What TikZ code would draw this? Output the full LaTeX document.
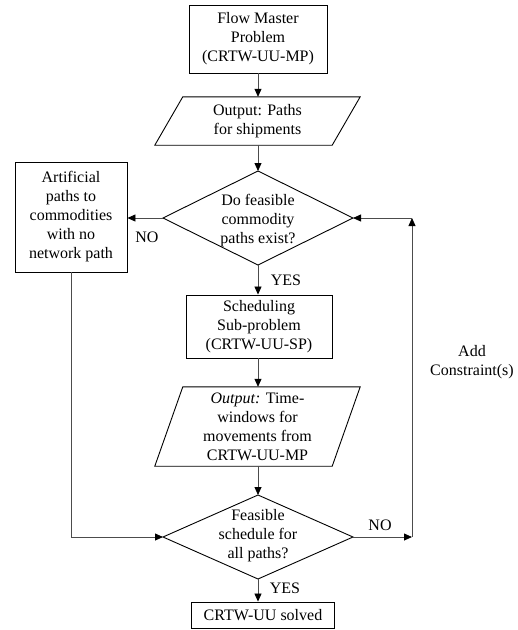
\documentclass[tikz,border=0pt]{standalone}
\usepackage{fontspec}
\setmainfont{Liberation Serif}
\usetikzlibrary{arrows.meta,calc}
\begin{document}
\begin{tikzpicture}[x=1pt,y=1pt,
  every node/.style={font=\fontsize{16}{19}\selectfont, align=center, inner sep=0pt},
  box/.style={draw, line width=0.9pt},
  shapeline/.style={draw, line width=0.9pt, line join=miter},
  conn/.style={line width=0.8pt, draw=black!70, -{Triangle[length=8pt,width=7pt,black]}}
]
\useasboundingbox (0,0) rectangle (518,-630);

% top box
\node[box, minimum width=138, minimum height=68] (mp) at (258,-39) {Flow Master\\Problem\\(CRTW-UU-MP)};

% parallelogram 1
\node[minimum width=177, minimum height=48] (p1) at (257.5,-121) {Output: Paths\\for shipments};
\draw[shapeline] ([xshift=14]p1.north west) -- ([xshift=14]p1.north east) -- ([xshift=-14]p1.south east) -- ([xshift=-14]p1.south west) -- cycle;

% diamond 1
\coordinate (d1n) at (258,-171);
\coordinate (d1e) at (353,-218);
\coordinate (d1s) at (258,-265);
\coordinate (d1w) at (163,-218);
\draw[shapeline] (d1n) -- (d1e) -- (d1s) -- (d1w) -- cycle;
\node (d1) at (258,-221) {Do feasible\\commodity\\paths exist?};

% artificial box
\node[box, minimum width=112, minimum height=110] (art) at (71,-217) {Artificial\\paths to\\commodities\\with no\\network path};
\node (no1) at (147,-237) {NO};

% scheduling box
\node[box, minimum width=146, minimum height=63] (sp) at (259,-326.5) {Scheduling\\Sub-problem\\(CRTW-UU-SP)};
\node (yes1) at (286,-280) {YES};

% parallelogram 2
\node[minimum width=177, minimum height=79] (p2) at (257.5,-426.5) {\textit{Output:} Time-\\windows for\\movements from\\CRTW-UU-MP};
\draw[shapeline] ([xshift=14]p2.north west) -- ([xshift=14]p2.north east) -- ([xshift=-14]p2.south east) -- ([xshift=-14]p2.south west) -- cycle;

% diamond 2
\coordinate (d2n) at (258,-495);
\coordinate (d2e) at (353,-537);
\coordinate (d2s) at (258,-579);
\coordinate (d2w) at (163,-537);
\draw[shapeline] (d2n) -- (d2e) -- (d2s) -- (d2w) -- cycle;
\node (d2) at (258,-536) {Feasible\\schedule for\\all paths?};

% final box
\node[box, minimum width=143, minimum height=26] (fin) at (263,-615) {CRTW-UU solved};
\node (yes2) at (285,-588) {YES};
\node (no2) at (380,-525) {NO};
\node (add) at (472,-362) {Add\\Constraint(s)};

\coordinate (rc) at (412,-537);
\coordinate (tc) at (412,-218);

% connectors
\draw[conn] (mp.south -| d1n) -- (p1.north -| d1n);
\draw[conn] (p1.south -| d1n) -- (d1n);
\draw[conn] (d1w) -- (d1w -| art.east);
\draw[conn] (d1s) -- (d1s |- sp.north);
\draw[conn] (sp.south -| d1s) -- (p2.north -| d1s);
\draw[conn] (p2.south -| d2n) -- (d2n);
\draw[conn] (d2s) -- (d2s |- fin.north);
\draw[conn] (art.south) |- (d2w);
\draw[conn] (d2e) -- (rc);
\draw[conn] (rc) -- (tc);
\draw[conn] (tc) -- (d1e);
\end{tikzpicture}
\end{document}
